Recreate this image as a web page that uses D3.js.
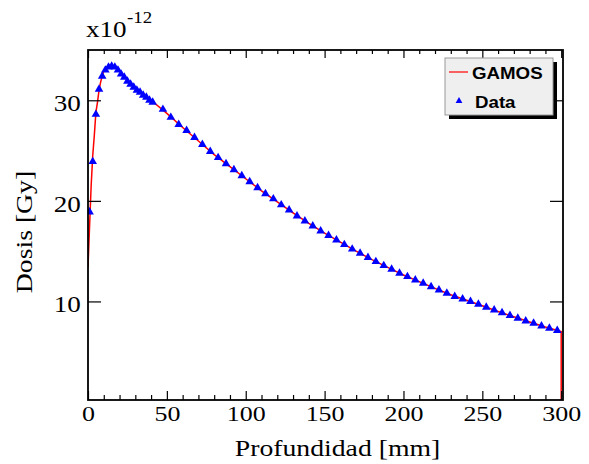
<!DOCTYPE html>
<html>
<head>
<meta charset="utf-8">
<script src="https://cdn.jsdelivr.net/npm/d3@7"></script>
<style>
  body { margin: 0; background: #fff; }
</style>
</head>
<body>
<svg id="chart" width="589" height="464"></svg>
<script>
// depth of the measured points [mm]
const dataX = [1, 3, 5, 7, 9, 11, 13, 15, 17, 19, 21, 23, 25, 27, 29, 31, 33, 35, 37, 39, 41,
    47.5, 52.5, 57.5, 62.5, 67.5, 72.5, 77.5, 82.5, 87.5, 92.5, 97.5, 102.5, 107.5, 112.5, 117.5,
    122.5, 127.5, 132.5, 137.5, 142.5, 147.5, 152.5, 157.5, 162.5, 167.5, 172.5, 177.5, 182.5,
    187.5, 192.5, 197.5, 202.5, 207.5, 212.5, 217.5, 222.5, 227.5, 232.5, 237.5, 242.5, 247.5,
    252.5, 257.5, 262.5, 267.5, 272.5, 277.5, 282.5, 287.5, 292.5, 297.5];
// dose of the measured points [x1e-12 Gy]
const dataY = [18.9, 23.9, 28.6, 31.1, 32.4, 33.0, 33.3, 33.4, 33.3, 33.0, 32.6, 32.3, 31.9, 31.6,
    31.3, 31.0, 30.8, 30.5, 30.3, 30.0, 29.8,
    29.1, 28.3, 27.6, 27.0, 26.3, 25.6, 24.9, 24.3, 23.7, 23.1, 22.5, 21.9, 21.3, 20.7, 20.2,
    19.6, 19.1, 18.5, 18.0, 17.5, 17.0, 16.55, 16.1, 15.65, 15.2, 14.8, 14.36, 13.96,
    13.56, 13.2, 12.8, 12.47, 12.14, 11.8, 11.47, 11.14, 10.82, 10.5, 10.25, 10.0, 9.72,
    9.42, 9.15, 8.88, 8.6, 8.33, 8.06, 7.83, 7.56, 7.33, 7.12];

// GAMOS simulation curve
const gamosX = [0, 1, 2, 3, 4, 5, 6, 7, 8, 9, 10, 12, 14, 16, 18, 20, 25, 30, 35, 40,
    50, 60, 70, 80, 90, 100, 110, 120, 130, 140, 150, 160, 170, 180, 190, 200,
    210, 220, 230, 240, 250, 260, 270, 280, 290, 300, 300];
const gamosY = [13.4, 17.5, 21.5, 24.5, 26.5, 28.8, 29.8, 31.0, 31.8, 32.4, 32.9, 33.3, 33.5, 33.4, 33.2, 32.9, 32.0, 31.3, 30.6, 30.0,
    28.7, 27.3, 25.95, 24.6, 23.4, 22.2, 21.0, 19.9, 18.8, 17.75, 16.8, 15.9, 15.0, 14.16, 13.38, 12.63,
    11.97, 11.3, 10.66, 10.12, 9.57, 9.0, 8.47, 7.95, 7.45, 7.0, 0];

const xMajor = [0, 50, 100, 150, 200, 250, 300];
const xMinor = [10, 20, 30, 40, 60, 70, 80, 90, 110, 120, 130, 140, 160, 170, 180, 190, 210, 220, 230, 240, 260, 270, 280, 290];
const yMajor = [10, 20, 30];

const svg = d3.select("#chart");
const plotL = 88, plotR = 563, plotT = 50, plotB = 400;
const stretch = 1.18;
const serif = "'Liberation Serif', 'Times New Roman', serif";

const x = d3.scaleLinear().domain([0, 300]).range([plotL, plotR - 1.8]);
const y = d3.scaleLinear().domain([0.2, 35]).range([plotB, plotT]);

svg.append("rect").attr("width", 589).attr("height", 464).attr("fill", "#fff");

svg.append("clipPath").attr("id", "plot")
    .append("rect")
    .attr("x", plotL).attr("y", plotT)
    .attr("width", plotR - plotL).attr("height", plotB - plotT);

// GAMOS line
const line = d3.line().x((d, i) => x(gamosX[i])).y(d => y(d));
svg.append("path")
    .attr("clip-path", "url(#plot)")
    .attr("d", line(gamosY))
    .attr("fill", "none")
    .attr("stroke", "#ff0000")
    .attr("stroke-width", 1.5);

// measured points
const tri = d3.symbol().type(d3.symbolTriangle).size(32);
svg.append("g")
    .attr("clip-path", "url(#plot)")
    .selectAll("path")
    .data(dataY)
    .join("path")
    .attr("transform", (d, i) => `translate(${x(dataX[i])},${y(d)})`)
    .attr("d", tri)
    .attr("fill", "#0000ff");

// axes (ticks point inside the frame)
const gb = svg.append("g").attr("transform", `translate(0,${plotB})`)
    .call(d3.axisBottom(x).tickValues(xMajor).tickSize(-9).tickPadding(5).tickFormat(d3.format("d")));
svg.append("g").attr("transform", `translate(0,${plotB})`)
    .call(d3.axisBottom(x).tickValues(xMinor).tickSize(-5).tickFormat(""));
svg.append("g").attr("transform", `translate(0,${plotT})`)
    .call(d3.axisTop(x).tickValues(xMajor).tickSize(-8).tickFormat(""));
svg.append("g").attr("transform", `translate(0,${plotT})`)
    .call(d3.axisTop(x).tickValues(xMinor).tickSize(-4).tickFormat(""));
const gl = svg.append("g").attr("transform", `translate(${plotL},0)`)
    .call(d3.axisLeft(y).tickValues(yMajor).tickSize(-13).tickPadding(6).tickFormat(d3.format("d")));
svg.append("g").attr("transform", `translate(${plotR},0)`)
    .call(d3.axisRight(y).tickValues(yMajor).tickSize(-13).tickFormat(""));

svg.selectAll(".domain").remove();
svg.selectAll(".tick line").attr("stroke", "#000").attr("stroke-width", 1.2);

gb.selectAll("text")
    .style("font-family", serif)
    .attr("font-size", 22).attr("fill", "#000")
    .attr("transform", `scale(${stretch},1)`);
gl.selectAll("text")
    .style("font-family", serif)
    .attr("font-size", 23).attr("fill", "#000")
    .attr("dy", "0.45em")
    .attr("transform", `scale(${stretch},1)`);

// frame
svg.append("rect")
    .attr("x", plotL).attr("y", plotT)
    .attr("width", plotR - plotL).attr("height", plotB - plotT)
    .attr("fill", "none").attr("stroke", "#000").attr("stroke-width", 1.8);

// titles
svg.append("text")
    .attr("transform", `translate(${(plotL + plotR) / 2 + 12},456) scale(${stretch},1)`)
    .attr("text-anchor", "middle")
    .style("font-family", serif).attr("font-size", 23.5)
    .text("Profundidad [mm]");
svg.append("text")
    .attr("transform", `translate(32,232) rotate(-90) scale(${stretch},1)`)
    .attr("text-anchor", "middle")
    .style("font-family", serif).attr("font-size", 23.5)
    .text("Dosis [Gy]");
svg.append("text")
    .attr("transform", `translate(86,37) scale(${stretch},1)`)
    .style("font-family", serif).attr("font-size", 23)
    .text("x10");
svg.append("text")
    .attr("transform", `translate(127,23) scale(${stretch},1)`)
    .style("font-family", serif).attr("font-size", 16)
    .text("-12");

// legend
const lg = svg.append("g").attr("transform", "translate(445,58)");
lg.append("rect").attr("x", 4).attr("y", 4).attr("width", 108).attr("height", 57).attr("fill", "#000");
lg.append("rect").attr("width", 108).attr("height", 57)
    .attr("fill", "#efefef").attr("stroke", "#999").attr("stroke-width", 1);
lg.append("line").attr("x1", 4).attr("x2", 23).attr("y1", 14).attr("y2", 14)
    .attr("stroke", "#ff0000").attr("stroke-width", 1.2);
lg.append("path").attr("transform", "translate(14,43)")
    .attr("d", d3.symbol().type(d3.symbolTriangle).size(20)).attr("fill", "#0000ff");
lg.selectAll("text.lab")
    .data(["GAMOS", "Data"])
    .join("text")
    .attr("class", "lab")
    .attr("transform", (d, i) => `translate(${i ? 30 : 27},${i ? 50 : 21}) scale(1.1,1)`)
    .style("font-family", "'Liberation Sans', Arial, sans-serif")
    .attr("font-weight", "bold").attr("font-size", 17)
    .text(d => d);
</script>
</body>
</html>
